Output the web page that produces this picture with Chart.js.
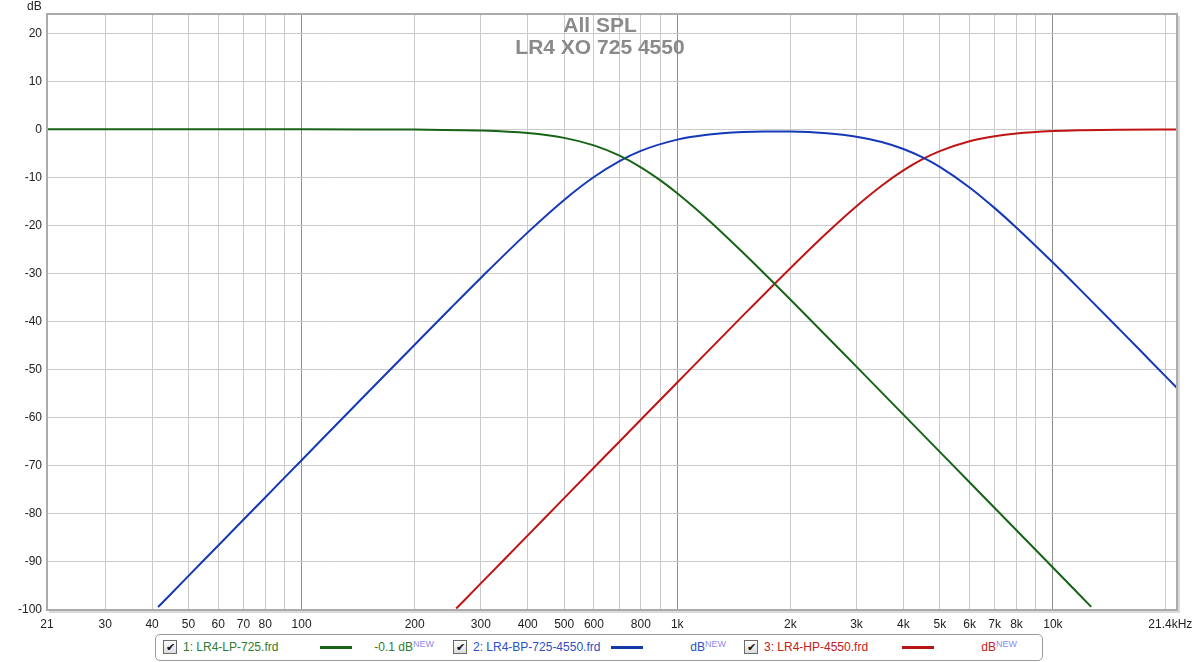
<!DOCTYPE html>
<html>
<head>
<meta charset="utf-8">
<title>All SPL - LR4 XO 725 4550</title>
<script src="https://cdn.jsdelivr.net/npm/chart.js@4/dist/chart.umd.min.js"></script>
<style>
  html, body { margin: 0; padding: 0; background: #fff; }
  body { width: 1200px; height: 662px; position: relative; overflow: hidden; font-family: "Liberation Sans", Arial, sans-serif; }
  #spl_chart { position: absolute; left: 0; top: 0; }
  #db_label { position: absolute; left: 27px; top: -1px; font-size: 12px; color: #222; }
  #chart_title { position: absolute; left: 0; top: 14px; width: 1200px; text-align: center; font-size: 21px; font-weight: bold; line-height: 22px; color: #8a8a8a; pointer-events: none; }
  #legend { position: absolute; left: 155px; top: 634px; width: 886px; height: 25px; border: 1px solid #9a9a9a; border-radius: 5px; background: #fff; font-size: 12px; }
  .chk { position: absolute; top: 5px; width: 12px; height: 12px; border: 1px solid #6a6a6a; background: linear-gradient(#ffffff, #dcdcdc); font-size: 11px; line-height: 12px; text-align: center; color: #111; }
  .lbl { position: absolute; top: 5px; white-space: nowrap; }
  .swatch { position: absolute; top: 11px; width: 32px; height: 3px; }
  .val { position: absolute; top: 5px; white-space: nowrap; text-align: right; }
  .val sup { font-size: 9px; color: #8c8cf0; vertical-align: 4px; line-height: 0; }
</style>
</head>
<body>
<canvas id="spl_chart" width="1200" height="632"></canvas>
<div id="db_label">dB</div>
<div id="chart_title">All SPL<br>LR4 XO 725 4550</div>
<div id="legend">
  <span class="chk" style="left:7px">&#10004;</span>
  <span class="lbl" style="left:27px;color:#2e7d2e">1: LR4-LP-725.frd</span>
  <span class="swatch" style="left:164px;background:#176417"></span>
  <span class="val" style="left:214px;width:64px;color:#2e7d2e">-0.1 dB<sup>NEW</sup></span>
  <span class="chk" style="left:297px">&#10004;</span>
  <span class="lbl" style="left:317px;color:#2b4fc4">2: LR4-BP-725-4550.frd</span>
  <span class="swatch" style="left:455px;background:#1538a8"></span>
  <span class="val" style="left:520px;width:50px;color:#2b4fc4">dB<sup>NEW</sup></span>
  <span class="chk" style="left:588px">&#10004;</span>
  <span class="lbl" style="left:608px;color:#c42020">3: LR4-HP-4550.frd</span>
  <span class="swatch" style="left:746px;background:#b81414"></span>
  <span class="val" style="left:811px;width:50px;color:#c42020">dB<sup>NEW</sup></span>
</div>

<script>
'use strict';

// ------------------ data ------------------
// 1: LR4-LP-725.frd
const lpFreq = [21, 50, 100, 150, 200, 300, 400, 500, 600, 700, 800, 900, 1000, 1200, 1500, 2000, 3000, 4000, 6000, 8000, 10000, 12650];
const lpDb = [0, 0, -0.003, -0.02, -0.05, -0.25, -0.77, -1.77, -3.34, -5.43, -7.9, -10.57, -13.29, -18.59, -25.72, -35.4, -49.37, -59.35, -73.43, -83.42, -91.17, -99.34];

// 2: LR4-BP-725-4550.frd
const bpFreq = [41.5, 50, 60, 80, 100, 150, 200, 250, 300, 400, 500, 600, 700, 800, 1000, 1200, 1500, 1700, 2000, 2500, 3000, 3500, 4000, 4500, 5000, 6000, 7000, 8000, 10000, 12000, 15000, 18000, 21400];
const bpDb = [-99.38, -92.91, -86.57, -76.58, -68.83, -54.75, -44.8, -37.11, -30.91, -21.43, -14.68, -9.92, -6.65, -4.48, -2.14, -1.13, -0.56, -0.45, -0.47, -0.82, -1.53, -2.62, -4.08, -5.83, -7.81, -12.09, -16.39, -20.47, -27.72, -33.87, -41.52, -47.82, -53.81];

// 3: LR4-HP-4550.frd
const hpFreq = [258, 300, 350, 400, 500, 700, 1000, 1500, 2000, 2500, 3000, 3500, 4000, 4500, 5000, 6000, 7000, 8000, 10000, 12000, 15000, 21400];
const hpDb = [-99.7, -94.47, -89.12, -84.48, -76.72, -65.04, -52.66, -38.66, -28.88, -21.56, -15.98, -11.72, -8.54, -6.21, -4.54, -2.48, -1.43, -0.86, -0.36, -0.18, -0.07, -0.02];

// axis ticks
const xTickVals = [21, 30, 40, 50, 60, 70, 80, 90, 100, 200, 300, 400, 500, 600, 700, 800, 900, 1000, 2000, 3000, 4000, 5000, 6000, 7000, 8000, 9000, 10000, 20000, 21400];
const xTickLabels = ['21', '30', '40', '50', '60', '70', '80', '', '100', '200', '300', '400', '500', '600', '', '800', '', '1k', '2k', '3k', '4k', '5k', '6k', '7k', '8k', '', '10k', '', '21.4kHz    '];
const yTickVals = [-100, -90, -80, -70, -60, -50, -40, -30, -20, -10, 0, 10, 20];
const decadeLines = [100, 1000, 10000];

// ------------------ helpers ------------------
function toPoints(freqs, values) {
  const pts = [];
  for (let i = 0; i < freqs.length; i++) {
    pts.push({ x: freqs[i], y: values[i] });
  }
  return pts;
}

function makeSeries(label, freqs, values, color) {
  return {
    label: label,
    data: toPoints(freqs, values),
    borderColor: color,
    borderWidth: 2,
    pointRadius: 0,
    fill: false,
    cubicInterpolationMode: 'monotone'
  };
}

// frame round the plot area
const plotFrame = {
  id: 'plotFrame',
  afterDraw(chart) {
    const a = chart.chartArea;
    const ctx = chart.ctx;
    ctx.save();
    ctx.strokeStyle = '#dadada';
    ctx.lineWidth = 2;
    ctx.beginPath();
    ctx.moveTo(a.right + 2, a.top + 2);
    ctx.lineTo(a.right + 2, a.bottom + 2);
    ctx.lineTo(a.left + 2, a.bottom + 2);
    ctx.stroke();
    ctx.strokeStyle = '#ababab';
    ctx.strokeRect(a.left, a.top, a.right - a.left, a.bottom - a.top);
    ctx.restore();
  }
};

// ------------------ chart ------------------
const chartCtx = document.getElementById('spl_chart').getContext('2d');
const splChart = new Chart(chartCtx, {
  type: 'line',
  data: {
    datasets: [
      makeSeries('1: LR4-LP-725.frd', lpFreq, lpDb, '#176417'),
      makeSeries('2: LR4-BP-725-4550.frd', bpFreq, bpDb, '#1538b8'),
      makeSeries('3: LR4-HP-4550.frd', hpFreq, hpDb, '#c01414')
    ]
  },
  options: {
    responsive: false,
    animation: false,
    layout: { padding: { top: 14, right: 23, left: 0, bottom: 0 } },
    plugins: {
      legend: { display: false },
      title: { display: false },
      tooltip: { enabled: false }
    },
    scales: {
      x: {
        type: 'logarithmic',
        min: 21,
        max: 21400,
        afterBuildTicks: (scale) => {
          scale.ticks = xTickVals.map(v => ({ value: v }));
        },
        afterFit: (scale) => {
          scale.height = 22;
          scale.paddingLeft = 0;
          scale.paddingRight = 0;
        },
        border: { display: false },
        grid: {
          drawTicks: false,
          lineWidth: 1,
          color: (c) => (c.tick && decadeLines.includes(c.tick.value)) ? '#8e8e8e' : '#cacaca'
        },
        ticks: {
          autoSkip: false,
          maxRotation: 0,
          padding: 7,
          color: '#222',
          font: { family: '"Liberation Sans", Arial, sans-serif', size: 12 },
          callback: (value, index) => xTickLabels[index]
        }
      },
      y: {
        type: 'linear',
        min: -100,
        max: 24,
        afterBuildTicks: (scale) => {
          scale.ticks = yTickVals.map(v => ({ value: v }));
        },
        afterFit: (scale) => { scale.width = 47; },
        border: { display: false },
        grid: { drawTicks: false, color: '#cacaca', lineWidth: 1 },
        ticks: {
          padding: 5,
          color: '#222',
          font: { family: '"Liberation Sans", Arial, sans-serif', size: 12 }
        }
      }
    }
  },
  plugins: [plotFrame]
});
</script>
</body>
</html>
